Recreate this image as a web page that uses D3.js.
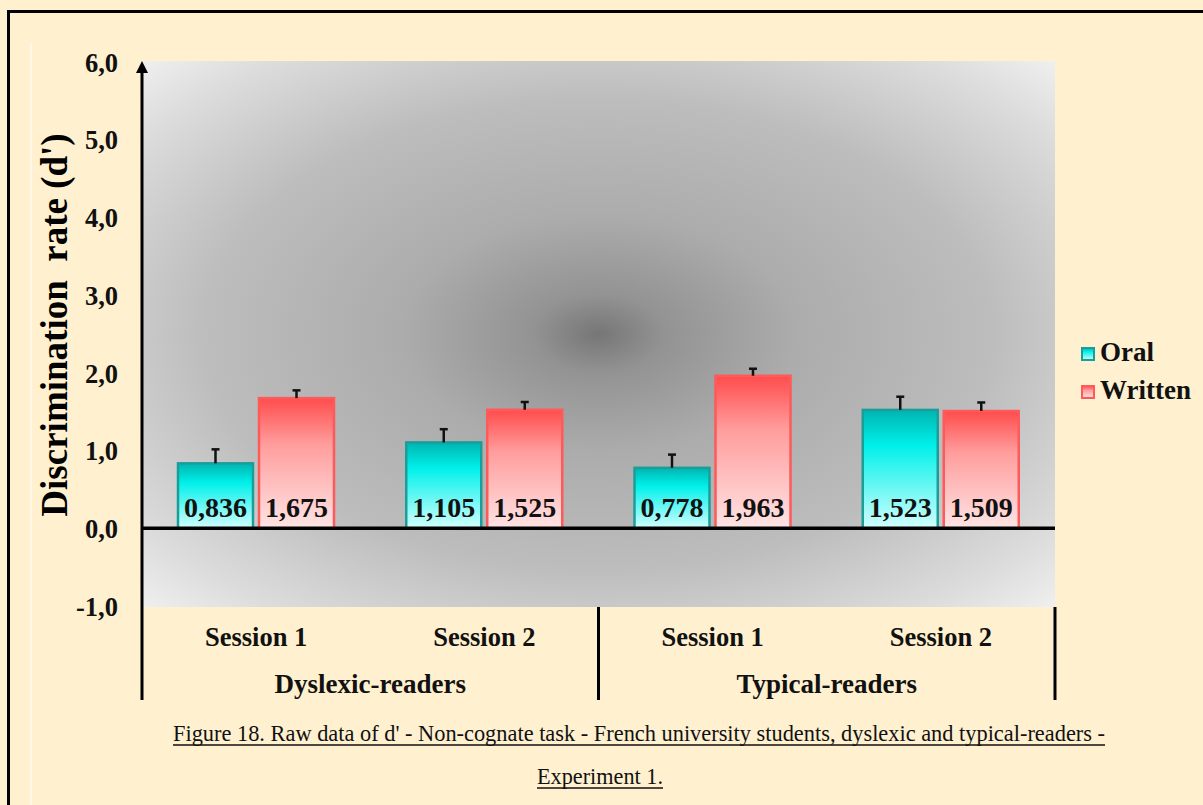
<!DOCTYPE html>
<html>
<head>
<meta charset="utf-8">
<script src="https://cdn.jsdelivr.net/npm/d3@7"></script>
<style>
  body { margin: 0; background: #fff; }
  svg text { font-family: "Times New Roman", "Liberation Serif", serif; }
</style>
</head>
<body>
<svg id="chart" width="1203" height="805"></svg>
<script>
// data
var groups = ["Dyslexic-readers", "Typical-readers"];
var sessions = ["Session 1", "Session 2"];
var series = ["Oral", "Written"];
var oralValues = [0.836, 1.105, 0.778, 1.523];
var writtenValues = [1.675, 1.525, 1.963, 1.509];
var oralErrors = [0.18, 0.17, 0.17, 0.17];
var writtenErrors = [0.10, 0.10, 0.09, 0.11];
var yTicks = [-1, 0, 1, 2, 3, 4, 5, 6];

var svg = d3.select("#chart");

// categories: group x session
var cats = [];
groups.forEach(function(g) {
  sessions.forEach(function(s) { cats.push(g + "|" + s); });
});
var rows = cats.map(function(c, i) {
  return {cat: c, Oral: oralValues[i], Written: writtenValues[i],
          errOral: oralErrors[i], errWritten: writtenErrors[i]};
});

var plot = {left: 142, right: 1055, top: 61, bottom: 607};

var x0 = d3.scaleBand().domain(cats).range([plot.left, plot.right]).padding(0);
var x1 = d3.scaleBand().domain(series).range([36, 192]).paddingInner(0.074);
var y = d3.scaleLinear().domain([-1, 6]).range([606, 62]);

var fmt1 = function(d) { return d3.format(".1f")(d).replace("−", "-").replace(".", ","); };
var fmt3 = function(d) { return d3.format(".3f")(d).replace(".", ","); };

// defs / gradients
var defs = svg.append("defs");
var bg = defs.append("radialGradient").attr("id", "bgGrad")
  .attr("cx", 0.5).attr("cy", 0.5).attr("r", 0.72);
[[0, "#767676"], [0.1, "#939393"], [0.3, "#acacac"], [0.6, "#bdbdbd"], [0.85, "#dcdcdc"], [1, "#f2f2f2"]]
  .forEach(function(s) { bg.append("stop").attr("offset", s[0]).attr("stop-color", s[1]); });

var gOral = defs.append("linearGradient").attr("id", "gradOral")
  .attr("x1", 0).attr("y1", 0).attr("x2", 0).attr("y2", 1);
gOral.append("stop").attr("offset", 0).attr("stop-color", "#00b4b0");
gOral.append("stop").attr("offset", 0.3).attr("stop-color", "#00f0ea");
gOral.append("stop").attr("offset", 1).attr("stop-color", "#d2fffd");

var gWritten = defs.append("linearGradient").attr("id", "gradWritten")
  .attr("x1", 0).attr("y1", 0).attr("x2", 0).attr("y2", 1);
gWritten.append("stop").attr("offset", 0).attr("stop-color", "#ff4c4c");
gWritten.append("stop").attr("offset", 0.35).attr("stop-color", "#ff9c9c");
gWritten.append("stop").attr("offset", 1).attr("stop-color", "#ffe4e4");

var fills = {Oral: "url(#gradOral)", Written: "url(#gradWritten)"};
var strokes = {Oral: "#1a9e9a", Written: "#ff5a5a"};

// page background + frame
svg.append("rect").attr("width", 1203).attr("height", 805).attr("fill", "#fff0cf");
svg.append("rect").attr("x", 8.5).attr("y", 11.5).attr("width", 1220).attr("height", 820)
  .attr("fill", "none").attr("stroke", "#000").attr("stroke-width", 3);
svg.append("line").attr("x1", 31).attr("x2", 31).attr("y1", 43).attr("y2", 805)
  .attr("stroke", "#fffaf0").attr("stroke-width", 1.5);

// plot area
svg.append("rect")
  .attr("x", plot.left).attr("y", plot.top)
  .attr("width", plot.right - plot.left).attr("height", plot.bottom - plot.top)
  .attr("fill", "url(#bgGrad)");

// y axis labels
var yAxis = d3.axisLeft(y).tickValues(yTicks).tickSize(0).tickPadding(24).tickFormat(fmt1);
var ya = svg.append("g").attr("transform", "translate(" + plot.left + ",0)").call(yAxis);
ya.select(".domain").remove();
ya.selectAll("text")
  .style("font-family", "'Times New Roman', 'Liberation Serif', serif")
  .style("font-weight", "bold").style("font-size", "26.5px").attr("fill", "#111")
  .attr("dy", "0.35em");

// axis title
svg.append("text")
  .attr("transform", "translate(67,325) rotate(-90)")
  .attr("text-anchor", "middle")
  .style("white-space", "pre")
  .style("font-weight", "bold").style("font-size", "37px")
  .text("Discrimination  rate (d')");

// bars
var barG = svg.append("g").selectAll("g").data(rows).enter().append("g")
  .attr("transform", function(d) { return "translate(" + x0(d.cat) + ",0)"; });

var bars = barG.selectAll("g.bar")
  .data(function(d) {
    return series.map(function(k) { return {key: k, value: d[k], err: d["err" + k]}; });
  })
  .enter().append("g").attr("class", "bar");

bars.append("rect")
  .attr("x", function(d) { return x1(d.key); })
  .attr("y", function(d) { return y(d.value); })
  .attr("width", x1.bandwidth())
  .attr("height", function(d) { return y(0) - y(d.value); })
  .attr("fill", function(d) { return fills[d.key]; })
  .attr("stroke", function(d) { return strokes[d.key]; })
  .attr("stroke-width", 2.5);

// error bars
bars.append("line")
  .attr("x1", function(d) { return x1(d.key) + x1.bandwidth() / 2; })
  .attr("x2", function(d) { return x1(d.key) + x1.bandwidth() / 2; })
  .attr("y1", function(d) { return y(d.value); })
  .attr("y2", function(d) { return y(d.value + d.err); })
  .attr("stroke", "#111").attr("stroke-width", 2.5);
bars.append("line")
  .attr("x1", function(d) { return x1(d.key) + x1.bandwidth() / 2 - 4; })
  .attr("x2", function(d) { return x1(d.key) + x1.bandwidth() / 2 + 4; })
  .attr("y1", function(d) { return y(d.value + d.err); })
  .attr("y2", function(d) { return y(d.value + d.err); })
  .attr("stroke", "#111").attr("stroke-width", 2.5);

// value labels
bars.append("text")
  .attr("x", function(d) { return x1(d.key) + x1.bandwidth() / 2; })
  .attr("y", y(0) - 11)
  .attr("text-anchor", "middle")
  .style("font-weight", "bold").style("font-size", "28px").attr("fill", "#111")
  .text(function(d) { return fmt3(d.value); });

// zero line
svg.append("line")
  .attr("x1", plot.left).attr("x2", plot.right)
  .attr("y1", y(0)).attr("y2", y(0))
  .attr("stroke", "#000").attr("stroke-width", 3.5);

// y axis line with arrow
svg.append("line")
  .attr("x1", plot.left).attr("x2", plot.left)
  .attr("y1", y(6) + 8).attr("y2", 700)
  .attr("stroke", "#000").attr("stroke-width", 3);
svg.append("path")
  .attr("d", "M" + plot.left + "," + (y(6) - 1) + " l-6,12 l12,0 z")
  .attr("fill", "#000");

// group separators
[x0(cats[2]), plot.right].forEach(function(xp) {
  svg.append("line").attr("x1", xp).attr("x2", xp)
    .attr("y1", plot.bottom).attr("y2", 700)
    .attr("stroke", "#000").attr("stroke-width", 3);
});

// category labels
svg.append("g").selectAll("text").data(cats).enter().append("text")
  .attr("x", function(d) { return x0(d) + x0.bandwidth() / 2; })
  .attr("y", 646)
  .attr("text-anchor", "middle")
  .style("font-weight", "bold").style("font-size", "26.5px").attr("fill", "#111")
  .text(function(d) { return d.split("|")[1]; });

svg.append("g").selectAll("text").data(groups).enter().append("text")
  .attr("x", function(g) { return x0(g + "|" + sessions[0]) + x0.bandwidth(); })
  .attr("y", 693)
  .attr("text-anchor", "middle")
  .style("font-weight", "bold").style("font-size", "27px").attr("fill", "#111")
  .text(function(g) { return g; });

// legend
var leg = svg.append("g").selectAll("g").data(series).enter().append("g")
  .attr("transform", function(d, i) { return "translate(1082," + (348 + i * 38) + ")"; });
leg.append("rect").attr("width", 12).attr("height", 12)
  .attr("fill", function(d) { return fills[d]; })
  .attr("stroke", function(d) { return strokes[d]; }).attr("stroke-width", 2);
leg.append("text").attr("x", 18).attr("y", 13)
  .style("font-weight", "bold").style("font-size", "27px").attr("fill", "#111")
  .text(function(d) { return d; });

// caption (first line runs a bit right of centre, as in the source)
var captionLines = [
  {text: "Figure 18. Raw data of d' - Non-cognate task - French university students, dyslexic and typical-readers -", x: 173, len: 932},
  {text: "Experiment 1.", x: 537, len: 126}
];
captionLines.forEach(function(c, i) {
  var yy = 741 + i * 43;
  svg.append("text")
    .attr("x", c.x).attr("y", yy)
    .attr("textLength", c.len).attr("lengthAdjust", "spacingAndGlyphs")
    .style("font-size", "23px").attr("fill", "#111")
    .text(c.text);
  svg.append("line")
    .attr("x1", c.x).attr("x2", c.x + c.len)
    .attr("y1", yy + 4).attr("y2", yy + 4)
    .attr("stroke", "#111").attr("stroke-width", 1.5);
});
</script>
</body>
</html>
